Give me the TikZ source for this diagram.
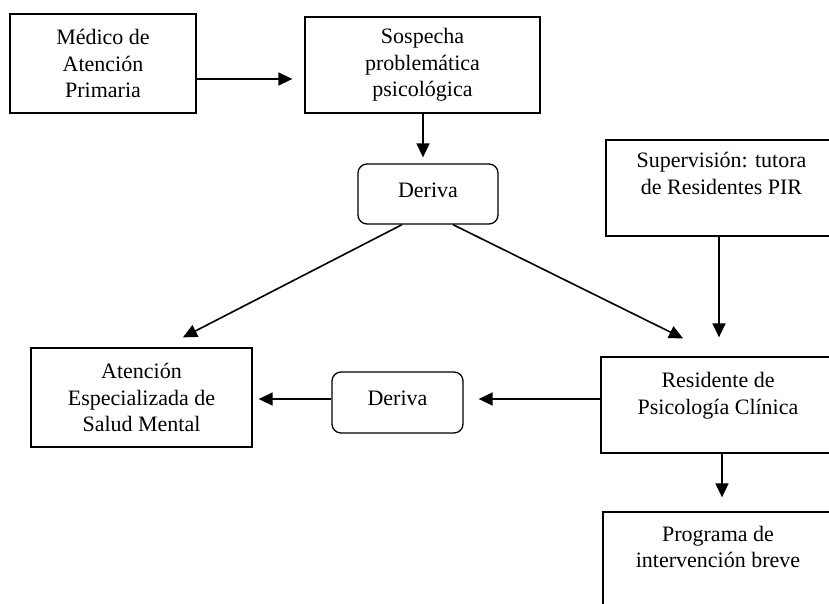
\documentclass[tikz,border=0pt]{standalone}
\usepackage{fontspec}
\setmainfont{Liberation Serif}
\usetikzlibrary{arrows.meta,calc}
\begin{document}
\begin{tikzpicture}[x=1pt,y=-1pt,
  every node/.style={font=\fontsize{22}{26.5}\selectfont, align=center, inner sep=0pt},
  box/.style={draw, line width=1.3pt, rectangle},
  rbox/.style={box, rounded corners=9pt},
  arr/.style={line width=1.6pt, -{Triangle[length=14pt,width=13pt]}}
]
\useasboundingbox (0,0) rectangle (829,604);
\clip (0,0) rectangle (829,604);
% boxes
\node[box, minimum width=186, minimum height=99] (med) at (103,63.5) {Médico de\\Atención\\Primaria};
\node[box, minimum width=235, minimum height=96] (sos) at (422.5,65) {Sospecha\\problemática\\psicológica};
\node[rbox, minimum width=140, minimum height=60, text depth=8pt] (der1) at (428,194) {Deriva};
\node[box, minimum width=221, minimum height=99] (ate) at (141.5,397.5) {Atención\\Especializada de\\Salud Mental};
\node[rbox, minimum width=131, minimum height=61, text depth=8pt] (der2) at (397.5,402.5) {Deriva};
\node[box, minimum width=234, minimum height=96] (sup) at (723,188) {};
\node (supt) at (721.5,173.5) {Supervisión: tutora\\de Residentes PIR};
\node[box, minimum width=239, minimum height=96] (res) at (720.5,405) {};
\node (rest) at (718,395.5) {Residente de\\Psicología Clínica};
\node[box, minimum width=237, minimum height=108] (pro) at (721.5,566) {};
\node (prot) at (718,547) {Programa de\\intervención breve};
% connectors
\draw[arr, shorten >=12pt] ([yshift=-15.5pt]med.east) -- ([yshift=-15.5pt]med.east -| sos.west);
\draw[arr, shorten >=6pt] ([xshift=0.5pt]sos.south) -- ([xshift=0.5pt]sos.south |- der1.north);
\draw[arr] ([xshift=-26pt]der1.south) -- ([xshift=41.5pt,yshift=10pt]ate.north);
\draw[arr] ([xshift=25pt]der1.south) -- ([xshift=-37.5pt,yshift=18pt]res.north);
\draw[arr, shorten >=19pt] ([xshift=-4pt]sup.south) -- ([xshift=-4pt]sup.south |- res.north);
\draw[arr, shorten >=14pt] ([xshift=1.5pt]res.south) -- ([xshift=1.5pt]res.south |- pro.north);
\draw[arr, shorten >=15pt] ([yshift=6pt]res.west) -- ([yshift=6pt]res.west -| der2.east);
\draw[arr, shorten >=6pt] ([yshift=3.5pt]der2.west) -- ([yshift=3.5pt]der2.west -| ate.east);
\end{tikzpicture}
\end{document}
